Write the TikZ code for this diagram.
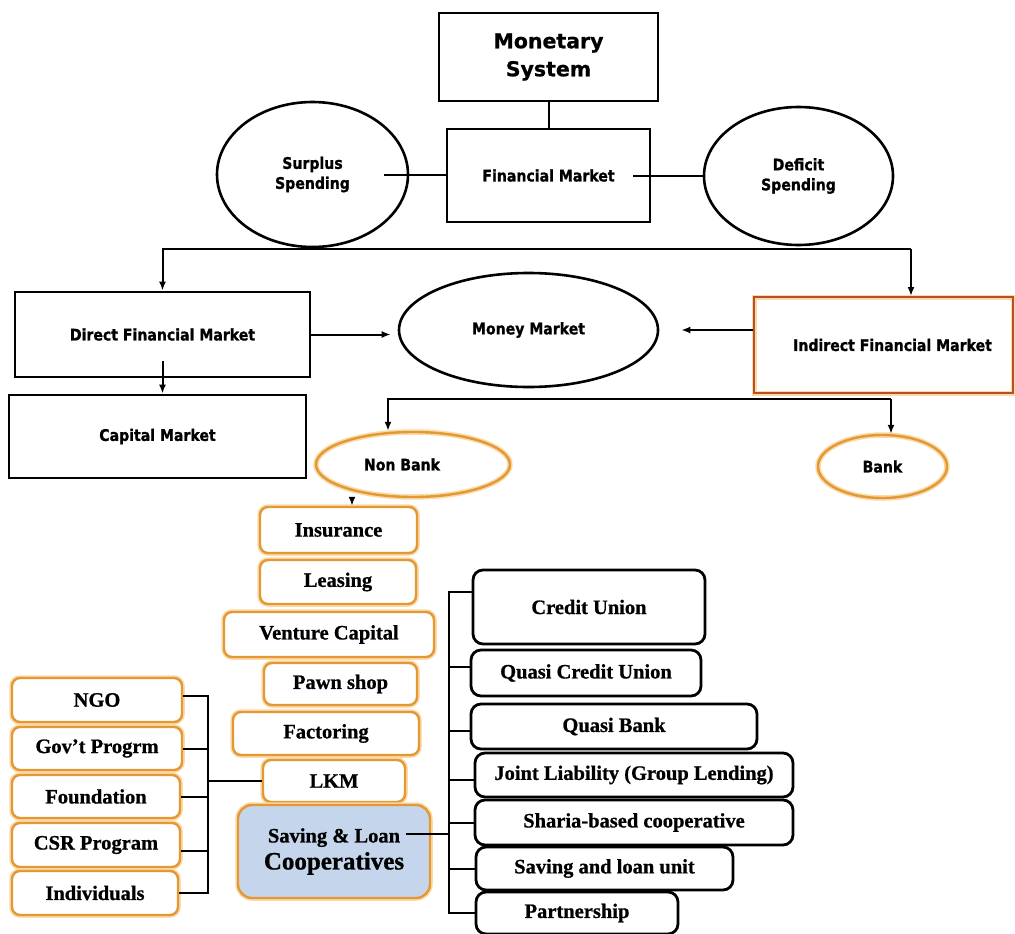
\documentclass[tikz,border=0pt]{standalone}
\usepackage{fontspec}
\usetikzlibrary{shapes.geometric,arrows.meta,calc}
\newfontfamily\hdrwide[FakeBold=0.8]{DejaVu Sans}
\newfontfamily\hdr[FakeStretch=0.88,FakeBold=1]{DejaVu Sans}
\newfontfamily\boxfont[FakeBold=0.8]{Liberation Serif}
\definecolor{orng}{RGB}{228,152,52}
\definecolor{orglow}{RGB}{250,218,168}
\definecolor{rust}{RGB}{183,80,38}
\definecolor{paleblue}{RGB}{197,214,236}

\tikzset{
  every node/.style={align=center, inner sep=0pt},
  sz/.style 2 args={minimum width=#1pt, minimum height=#2pt},
  hdrtxt/.style={font=\hdr\bfseries\fontsize{16}{20}\selectfont},
  sertxt/.style={font=\boxfont\bfseries\fontsize{20.5}{24}\selectfont},
  blkbox/.style={draw=black, line width=2.8pt, rectangle, hdrtxt},
  blkoval/.style={draw=black, line width=2.6pt, ellipse, hdrtxt},
  orgoval/.style={draw=orng, line width=2.4pt, ellipse, hdrtxt,
    preaction={draw=orglow, line width=5.5pt}},
  orgbox/.style={draw=orng, line width=2.4pt, rounded corners=8pt, fill=white, sertxt,
    preaction={draw=orglow, line width=5.5pt}},
  rbox/.style={draw=black, line width=2.8pt, rounded corners=10pt, fill=white, sertxt},
  link/.style={line width=2pt},
  arr/.style={link, -{Latex[length=9pt,width=7pt]}},
}

\begin{document}
\begin{tikzpicture}[x=1pt,y=-1pt]
\useasboundingbox (0,0) rectangle (1015,934);

% upper level
\node[blkbox, sz={219}{88}, font=\hdrwide\bfseries\fontsize{20.5}{28}\selectfont] (mon) at (548.5,57) {Monetary\\System};
\node[blkbox, sz={203}{93}] (fin) at (548.5,175.5) {Financial Market};
\node[blkoval, sz={191}{145}] (sur) at (312.5,174.5) {Surplus\\Spending};
\node[blkoval, sz={189}{138}] (def) at (798.5,176) {Deficit\\Spending};

% markets
\node[blkbox, sz={295}{85}] (dir) at (162.5,334.5) {Direct Financial Market};
\node[blkbox, sz={297}{83}] (cap) at (157.5,436.5) {Capital Market};
\node[blkoval, sz={259}{114}] (mm) at (528.5,330) {Money Market};
\node[blkbox, draw=rust, line width=2pt, preaction={draw=orglow, line width=5pt},
      sz={259}{96}] (ind) at (883.5,345) {\hspace*{18pt}Indirect Financial Market};

% institutions
\node[orgoval, sz={194}{65}] (nb) at (413,464.5) {Non Bank\hspace*{22pt}};
\node[orgoval, sz={129}{63}] (bank) at (882.5,466.5) {Bank};

% non-bank column
\node[orgbox, sz={157}{46}] (ins) at (338.5,530) {Insurance};
\node[orgbox, sz={156}{44}] (lea) at (338,582) {Leasing};
\node[orgbox, sz={210}{45}] (ven) at (329,634.5) {Venture Capital};
\node[orgbox, sz={153}{42}] (paw) at (340.5,684) {Pawn shop};
\node[orgbox, sz={186}{43}] (fac) at (326,733.5) {Factoring};
\node[orgbox, sz={142}{42}] (lkm) at (334,781) {LKM};
\node[orgbox, fill=paleblue, rounded corners=14pt, sz={192}{93}] (slc) at (334,851.5)
     {Saving \& Loan\\[3pt]{\fontsize{25}{28}\selectfont Cooperatives}};

% LKM sources
\node[orgbox, sz={170}{44}] (ngo) at (97,700) {NGO};
\node[orgbox, sz={170}{43}] (gov) at (97,748.5) {Gov’t Progrm};
\node[orgbox, sz={168}{43}] (fou) at (96,796.5) {Foundation};
\node[orgbox, sz={168}{44}] (csr) at (96,845) {CSR Program};
\node[orgbox, sz={166}{44}] (idv) at (95,893) {Individuals};

% cooperative types
\node[rbox, sz={232}{74}] (cu) at (589,607) {Credit Union};
\node[rbox, sz={230}{46}] (qcu) at (586,673) {Quasi Credit Union};
\node[rbox, sz={286}{45}] (qb) at (614,726.5) {Quasi Bank};
\node[rbox, sz={318}{44}] (jl) at (634,775) {Joint Liability (Group Lending)};
\node[rbox, sz={318}{45}] (sh) at (634,822.5) {Sharia-based cooperative};
\node[rbox, sz={257}{43}] (slu) at (604.5,868.5) {Saving and loan unit};
\node[rbox, sz={202}{42}] (pa) at (577,913) {Partnership};

% connectors, upper level
\draw[link] (mon.south) -- (fin.north);
\draw[link] ([xshift=-25pt]sur.east) -- (sur.east -| fin.west);
\draw[link] ([xshift=-18pt]fin.east) -- (fin.east -| def.west);

\coordinate (busR) at (911,249);
\draw[arr] (busR) -| (dir.north);
\draw[arr] (busR) -- (busR |- ind.north);

\draw[arr, shorten >=7pt] (dir.east) -- (dir.east -| mm.west);
\draw[arr, shorten >=22pt] (ind.west |- mm.east) -- (mm.east);
\draw[arr] ([yshift=17pt]dir.south) -- (dir.south |- cap.north);

\coordinate (bus2) at (891,399);
\draw[arr] (bus2) -| ([xshift=-25pt]nb.north);
\draw[arr] (bus2) -- (bus2 |- bank.north);

\draw[arr] ([xshift=-61pt]nb.south) -- ([xshift=13.5pt]ins.north);

% bracket feeding LKM
\coordinate (lb) at (208,0);
\draw[link] ([yshift=4pt]ngo.east) -| (lb |- idv.east) -- (idv.east);
\draw[link] (gov.east) -- (gov.east -| lb);
\draw[link] (fou.east) -- (fou.east -| lb);
\draw[link] ([yshift=-6pt]csr.east) -- ([yshift=-6pt]csr.east -| lb);
\draw[link] (lb |- lkm.west) -- (lkm.west);

% bracket of cooperative types
\coordinate (rb) at (449,0);
\draw[link] ([yshift=15pt]cu.west) -| (rb |- pa.west) -- (pa.west);
\draw[link] ([yshift=6pt]qcu.west) -- ([yshift=6pt]qcu.west -| rb);
\draw[link] ([yshift=-4pt]qb.west) -- ([yshift=-4pt]qb.west -| rb);
\draw[link] ([yshift=-5pt]jl.west) -- ([yshift=-5pt]jl.west -| rb);
\draw[link] (sh.west) -- (sh.west -| rb);
\draw[link] (slu.west) -- (slu.west -| rb);
\draw[link] ([xshift=-25pt,yshift=18pt]slc.east) -- ([yshift=18pt]slc.east -| rb);
\end{tikzpicture}
\end{document}
